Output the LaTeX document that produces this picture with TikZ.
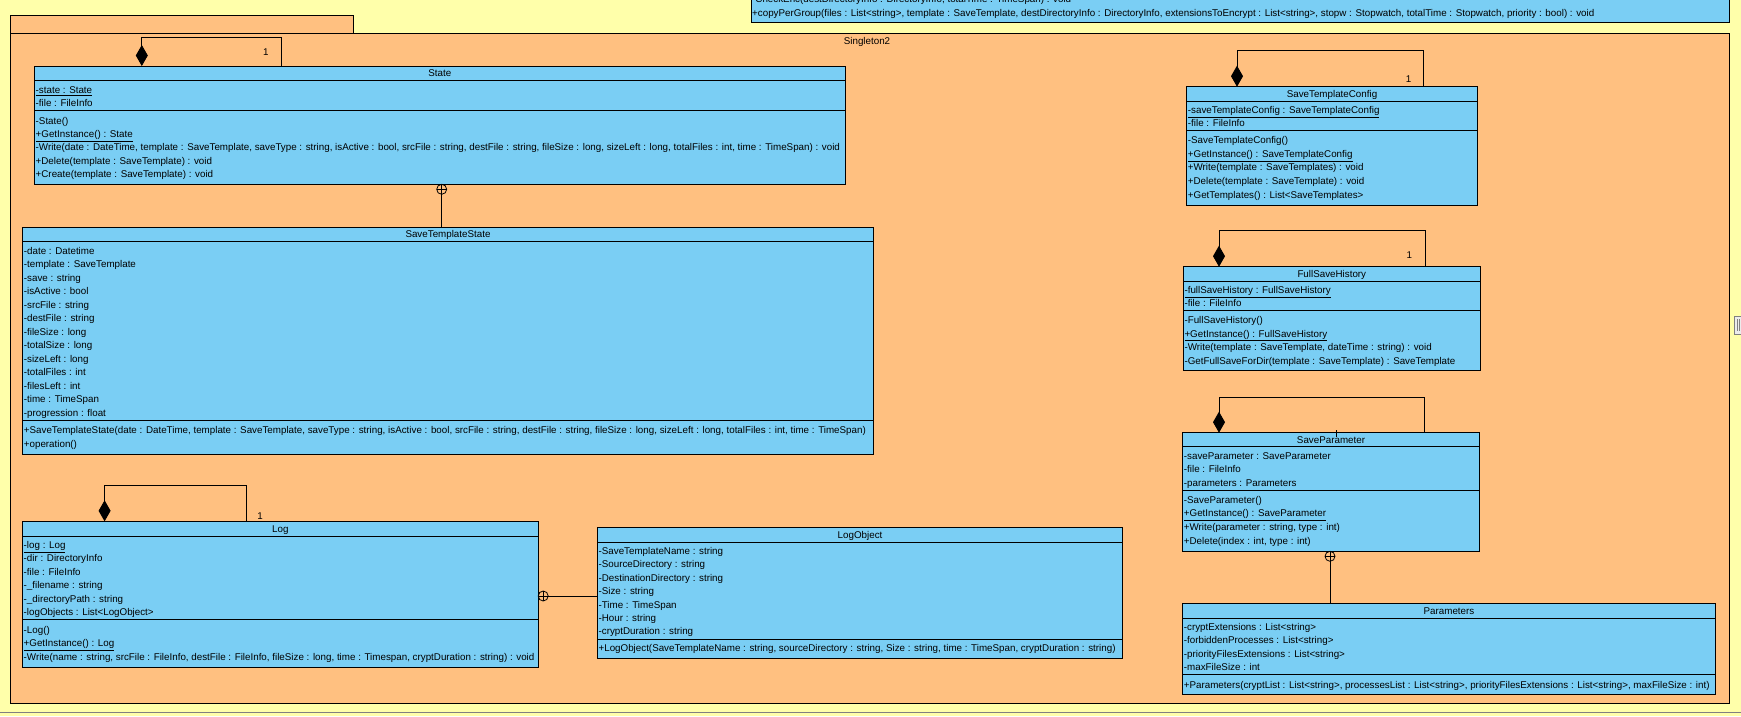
\documentclass[tikz,border=0pt]{standalone}
\usepackage{fontspec}
\setmainfont{Liberation Sans}
\usetikzlibrary{arrows.meta,calc}

\definecolor{pagebg}{HTML}{FFFFAA}
\definecolor{pkgfill}{HTML}{FFC080}
\definecolor{classfill}{HTML}{7ACEF4}
\definecolor{edgegrey}{HTML}{808080}

\tikzset{
  pkgbox/.style={draw=black, fill=pkgfill, line width=0.9pt, inner sep=0, outer sep=0},
  classbox/.style={draw=black, fill=classfill, line width=0.9pt, inner sep=0, outer sep=0},
  rowtext/.style={anchor=base west, inner sep=0},
  titletext/.style={anchor=base, inner sep=0},
  assoc/.style={draw=black, line width=0.9pt},
  comp/.style={assoc, {Diamond[length=21pt,width=12pt,fill=black]}-},
  nest/.style={circle, draw=black, line width=0.8pt, minimum size=10pt, inner sep=0, outer sep=0,
    path picture={\draw[line width=0.8pt]
      (path picture bounding box.north) -- (path picture bounding box.south)
      (path picture bounding box.west) -- (path picture bounding box.east);}},
  mult/.style={inner sep=0, anchor=center},
}

% class box: name, left, top, right, bottom, first separator, second separator, title
\newcommand\umlclass[8]{%
  \node[classbox, anchor=north west, minimum width={#4-#2}, minimum height={#5-#3}] (#1) at (#2,#3) {};
  \draw[line width=0.9pt] (#2,#6) -- (#4,#6) (#2,#7) -- (#4,#7);
  \node[titletext] at ({(#2+#4)/2},{(#3+#6)/2+3.5}) {#8};
}
% compartment rows: x, centre of first row, row step, items
\newcommand\classrows[4]{%
  \foreach \t [count=\i from 0] in {#4} {\node[rowtext] at (#1,{#2+#3*\i+3.5}) {\t};}
}

\begin{document}
\begin{tikzpicture}[x=1pt, y=-1pt, font=\fontsize{9.8}{11}\selectfont]
\useasboundingbox (0,0) rectangle (1741,716);
\fill[pagebg] (0,0) rectangle (1741,716);
\begin{scope}
\clip (0,0) rectangle (1741,716);

% class above the package, only its lower part is visible
\node[classbox, anchor=south west, minimum width=978, minimum height=60] (engine) at (751,22.3) {};
\classrows{752}{-0.9}{13.4}{
  {-CheckEnc(destDirectoryInfo : DirectoryInfo, totalTime : TimeSpan) : void},
  {+copyPerGroup(files : List<string>, template : SaveTemplate, destDirectoryInfo : DirectoryInfo, extensionsToEncrypt : List<string>, stopw : Stopwatch, totalTime : Stopwatch, priority : bool) : void}}

% package Singleton2
\node[pkgbox, anchor=south west, minimum width=342.7, minimum height=18] (pkgtab) at (10.3,33) {};
\node[pkgbox, anchor=north west, minimum width=1718.7, minimum height=670] (pkg) at (10.3,33) {};
\node[titletext] (pkgname) at (867,44.5) {Singleton2};

% State
\umlclass{state}{34.5}{66}{845.3}{184.3}{80.7}{110.7}{State}
\classrows{35.5}{90}{13.3}{{\underline{-state : State}},{-file : FileInfo}}
\classrows{35.5}{120.8}{13.3}{{-State()},{\underline{+GetInstance() : State}},
  {-Write(date : DateTime, template : SaveTemplate, saveType : string, isActive : bool, srcFile : string, destFile : string, fileSize : long, sizeLeft : long, totalFiles : int, time : TimeSpan) : void},
  {+Delete(template : SaveTemplate) : void},{+Create(template : SaveTemplate) : void}}

% SaveTemplateState
\umlclass{sts}{22.7}{227.3}{873.3}{454.3}{241.3}{420.3}{SaveTemplateState}
\classrows{23.7}{250.7}{13.5}{{-date : Datetime},{-template : SaveTemplate},{-save : string},
  {-isActive : bool},{-srcFile : string},{-destFile : string},{-fileSize : long},{-totalSize : long},
  {-sizeLeft : long},{-totalFiles : int},{-filesLeft : int},{-time : TimeSpan},{-progression : float}}
\classrows{23.7}{430}{13.6}{
  {+SaveTemplateState(date : DateTime, template : SaveTemplate, saveType : string, isActive : bool, srcFile : string, destFile : string, fileSize : long, sizeLeft : long, totalFiles : int, time : TimeSpan)},
  {+operation()}}

% Log
\umlclass{log}{22.5}{521.3}{538.2}{667}{536}{619.7}{Log}
\classrows{23.5}{545}{13.4}{{\underline{-log : Log}},{-dir : DirectoryInfo},{-file : FileInfo},
  {-\_filename : string},{-\_directoryPath : string},{-logObjects : List<LogObject>}}
\classrows{23.5}{630}{13.35}{{-Log()},{\underline{+GetInstance() : Log}},
  {-Write(name : string, srcFile : FileInfo, destFile : FileInfo, fileSize : long, time : Timespan, cryptDuration : string) : void}}

% LogObject
\umlclass{logobj}{597.4}{527.3}{1122.7}{658.3}{542.3}{639}{LogObject}
\classrows{598.4}{551}{13.38}{{-SaveTemplateName : string},{-SourceDirectory : string},
  {-DestinationDirectory : string},{-Size : string},{-Time : TimeSpan},{-Hour : string},{-cryptDuration : string}}
\classrows{598.4}{648.3}{13.4}{
  {+LogObject(SaveTemplateName : string, sourceDirectory : string, Size : string, time : TimeSpan, cryptDuration : string)}}

% SaveTemplateConfig
\umlclass{stc}{1186.7}{86.7}{1477.3}{205}{101}{130}{SaveTemplateConfig}
\classrows{1187.7}{109.8}{13.1}{{\underline{-saveTemplateConfig : SaveTemplateConfig}},{-file : FileInfo}}
\classrows{1187.7}{140.2}{13.6}{{-SaveTemplateConfig()},{\underline{+GetInstance() : SaveTemplateConfig}},
  {+Write(template : SaveTemplates) : void},{+Delete(template : SaveTemplate) : void},
  {+GetTemplates() : List<SaveTemplates>}}

% FullSaveHistory
\umlclass{fsh}{1183.3}{266.7}{1480.3}{370.3}{281}{310}{FullSaveHistory}
\classrows{1184.3}{289.8}{13.0}{{\underline{-fullSaveHistory : FullSaveHistory}},{-file : FileInfo}}
\classrows{1184.3}{320.2}{13.5}{{-FullSaveHistory()},{\underline{+GetInstance() : FullSaveHistory}},
  {-Write(template : SaveTemplate, dateTime : string) : void},
  {-GetFullSaveForDir(template : SaveTemplate) : SaveTemplate}}

% SaveParameter
\umlclass{sp}{1182.7}{432.7}{1479.3}{551.3}{446.7}{490}{SaveParameter}
\classrows{1183.7}{455.7}{13.5}{{-saveParameter : SaveParameter},{-file : FileInfo},{-parameters : Parameters}}
\classrows{1183.7}{499.5}{13.7}{{-SaveParameter()},{\underline{+GetInstance() : SaveParameter}},
  {+Write(parameter : string, type : int)},{+Delete(index : int, type : int)}}
\draw[line width=0.8pt] (1336.7,430) -- (1336.7,437);

% Parameters
\umlclass{par}{1182.7}{603.3}{1715.2}{694.3}{618}{674.3}{Parameters}
\classrows{1183.7}{626.7}{13.4}{{-cryptExtensions : List<string>},{-forbiddenProcesses : List<string>},
  {-priorityFilesExtensions : List<string>},{-maxFileSize : int}}
\classrows{1183.7}{685}{13.4}{
  {+Parameters(cryptList : List<string>, processesList : List<string>, priorityFilesExtensions : List<string>, maxFileSize : int)}}

% singleton self-compositions
\coordinate (stateA) at (141.8,66);   \coordinate (stateB) at (281.9,66);
\draw[comp] (stateA) -- (141.8,37.3) -| (stateB);
\node[mult] (stateM) at (265.8,52.3) {1};

\coordinate (stcA) at (1237,86.7);    \coordinate (stcB) at (1423.3,86.7);
\draw[comp] (stcA) -- (1237,50.3) -| (stcB);
\node[mult] (stcM) at (1408.7,78.7) {1};

\coordinate (fshA) at (1219,266.7);   \coordinate (fshB) at (1425.3,266.7);
\draw[comp] (fshA) -- (1219,230.7) -| (fshB);
\node[mult] (fshM) at (1409.3,255) {1};

\coordinate (spA) at (1219,432.7);    \coordinate (spB) at (1424.3,432.7);
\draw[comp] (spA) -- (1219,397.3) -| (spB);

\coordinate (logA) at (104.6,521.3);  \coordinate (logB) at (246.4,521.3);
\draw[comp] (logA) -- (104.6,485.3) -| (logB);
\node[mult] (logM) at (260,516) {1};

% nested classes
\node[nest] (nestState) at (441.7,189.3) {};
\draw[assoc] (nestState) -- (nestState |- sts.north);

\node[nest] (nestSp) at (1330,556.3) {};
\draw[assoc] (nestSp) -- (nestSp |- par.north);

\node[nest] (nestLog) at (543.2,596) {};
\draw[assoc] (nestLog) -- (nestLog -| logobj.west);

% canvas edge: bottom rule and splitter handle at the right border
\draw[edgegrey, line width=0.9pt] (0,712) -- (1741,712);
\draw[edgegrey, line width=0.8pt, fill=white!85!edgegrey] (1734.5,316) rectangle (1741.5,334);
\draw[edgegrey, line width=0.6pt] (1737,319) -- (1737,331) (1739.5,319) -- (1739.5,331);
\end{scope}
\end{tikzpicture}
\end{document}
